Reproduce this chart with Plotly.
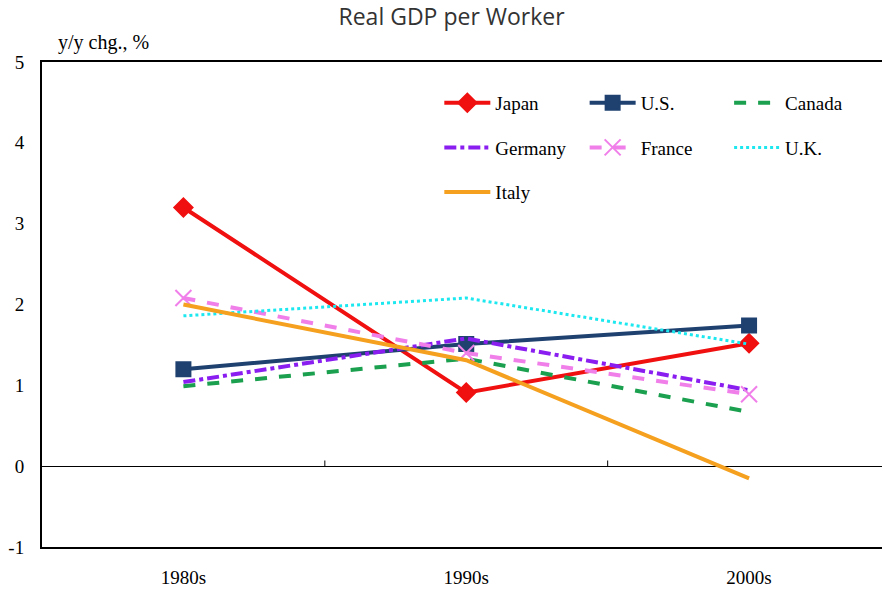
import plotly.graph_objects as go

# Decades on the x axis
decades = ["1980s", "1990s", "2000s"]

# Real GDP per worker, y/y change in %
japan = [3.20, 0.91, 1.52]
us = [1.20, 1.51, 1.74]
canada = [0.99, 1.33, 0.67]
germany = [1.04, 1.58, 0.94]
france = [2.08, 1.40, 0.89]
uk = [1.86, 2.08, 1.51]
italy = [2.00, 1.31, -0.15]

# y axis ticks (plain hyphen as in the original)
y_ticks = [-1, 0, 1, 2, 3, 4, 5]
y_labels = ["-1", "0", "1", "2", "3", "4", "5"]

serif = "Liberation Serif"

series = [
    # name, values, color, dash, width, marker, marker size, legend
    ("Japan", japan, "#F01010", "solid", 4, "diamond", 14, "legend"),
    ("U.S.", us, "#1F4170", "solid", 4, "square", 14, "legend2"),
    ("Canada", canada, "#1AA04E", "dash", 4, None, 0, "legend3"),
    ("Germany", germany, "#8A1EF0", "dashdot", 4, None, 0, "legend"),
    ("France", france, "#F07FEA", "dash", 4, "x-thin-open", 16, "legend2"),
    ("U.K.", uk, "#1DE8F0", "dot", 3, None, 0, "legend3"),
    ("Italy", italy, "#F5A01E", "solid", 4, None, 0, "legend"),
]

fig = go.Figure()
for name, vals, color, dash, width, symbol, msize, leg in series:
    mode = "lines+markers" if symbol else "lines"
    marker = dict(symbol=symbol, size=msize, color=color,
                  line=dict(color=color, width=2)) if symbol else None
    fig.add_trace(go.Scatter(
        x=decades, y=vals, name=name, mode=mode,
        line=dict(color=color, dash=dash, width=width),
        marker=marker, legend=leg, legendgroup=name,
    ))

# small tick marks between categories on the zero line
for b in [0.5, 1.5]:
    fig.add_shape(type="line", xref="x", yref="y", x0=b, x1=b, y0=0, y1=0.07,
                  line=dict(color="black", width=1))

legend_style = dict(
    yanchor="top", y=0.955, xanchor="left", itemwidth=46,
    bgcolor="rgba(0,0,0,0)", font=dict(family=serif, size=19, color="black"),
    tracegroupgap=17, traceorder="grouped",
)

fig.update_layout(
    width=882, height=589,
    margin=dict(l=42, r=0, t=62, b=42),
    paper_bgcolor="white", plot_bgcolor="white",
    title=dict(text="Real GDP per Worker", x=0.512, xanchor="center",
               y=0.985, yanchor="top",
               font=dict(family="Open Sans", size=23, color="#333")),
    font=dict(family=serif, color="black"),
    legend=dict(x=0.473, **legend_style),
    legend2=dict(x=0.646, **legend_style),
    legend3=dict(x=0.818, **legend_style),
    annotations=[dict(text="y/y chg., %", xref="paper", yref="paper",
                      x=0.017, y=1.0, xanchor="left", yanchor="bottom", yshift=6,
                      showarrow=False, font=dict(family=serif, size=20, color="black"))],
)

fig.update_xaxes(
    type="category", range=[-0.5, 2.47], showgrid=False, automargin=False,
    showline=True, linecolor="black", linewidth=2, mirror=True,
    ticks="", ticklabelstandoff=12,
    tickfont=dict(family=serif, size=19, color="black"),
)
fig.update_yaxes(
    range=[-1, 5], tickvals=y_ticks, ticktext=y_labels, showgrid=False,
    automargin=False,
    showline=True, linecolor="black", linewidth=2, mirror=False,
    zeroline=True, zerolinecolor="black", zerolinewidth=1,
    ticks="", ticklabelstandoff=12,
    tickfont=dict(family=serif, size=19, color="black"),
)

# drop the page margin so the figure fills the window exactly
fig.write_html("out.html", config={"displayModeBar": False},
               post_script="document.body.style.margin='0';document.body.style.overflow='hidden';")
